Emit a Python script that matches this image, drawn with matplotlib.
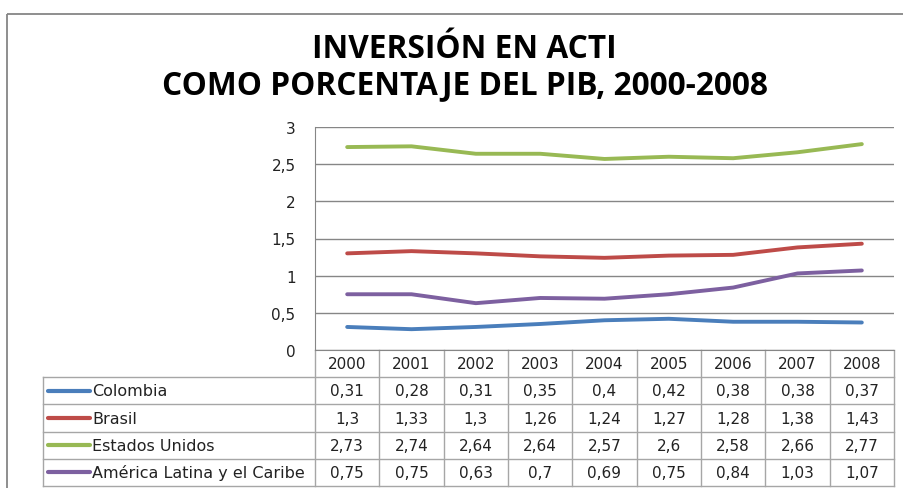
import matplotlib
matplotlib.use("Agg")
import matplotlib.pyplot as plt
from matplotlib.patches import Rectangle
from matplotlib.transforms import blended_transform_factory

# data
years = ["2000", "2001", "2002", "2003", "2004", "2005", "2006", "2007", "2008"]
names = ["Colombia", "Brasil", "Estados Unidos", "América Latina y el Caribe"]
colombia = [0.31, 0.28, 0.31, 0.35, 0.40, 0.42, 0.38, 0.38, 0.37]
brasil = [1.30, 1.33, 1.30, 1.26, 1.24, 1.27, 1.28, 1.38, 1.43]
eeuu = [2.73, 2.74, 2.64, 2.64, 2.57, 2.60, 2.58, 2.66, 2.77]
alc = [0.75, 0.75, 0.63, 0.70, 0.69, 0.75, 0.84, 1.03, 1.07]
series = [colombia, brasil, eeuu, alc]
colors = ["#4A7EBB", "#BE4B48", "#98B954", "#7D60A0"]
y_ticks = [0, 0.5, 1, 1.5, 2, 2.5, 3]

title_lines = ["INVERSIÓN EN ACTI", "COMO PORCENTAJE DEL PIB, 2000-2008"]


def fmt(v):
    return f"{v:g}".replace(".", ",")


W, H = 904, 489
fig = plt.figure(figsize=(W / 100, H / 100), dpi=100)

# pixel overlay for frame, title and table
px = fig.add_axes([0, 0, 1, 1])
px.set_xlim(0, W)
px.set_ylim(H, 0)
px.axis("off")

# plot area
left, right, top, bottom = 315, 894, 128, 351
ax = fig.add_axes([left / W, 1 - bottom / H, (right - left) / W, (bottom - top) / H])
ax.patch.set_alpha(0)
x = list(range(len(years)))
for vals, c in zip(series, colors):
    ax.plot(x, vals, color=c, lw=2.8, solid_joinstyle="round", solid_capstyle="round", zorder=3)
ax.set_xlim(-0.5, len(years) - 0.5)
ax.set_ylim(0, 3)
ax.set_yticks(y_ticks)
ax.set_yticklabels([fmt(t) for t in y_ticks], fontsize=11, color="#222222")
ax.set_xticks([])
ax.yaxis.grid(True, color="#868686", lw=1)
ax.set_axisbelow(True)
for s in ["top", "right"]:
    ax.spines[s].set_visible(False)
for s in ["left", "bottom"]:
    ax.spines[s].set_color("#868686")
ax.tick_params(axis="y", length=0, pad=14)

# outer chart frame (cut off right and bottom in the original)
px.add_patch(Rectangle((7, 15), 1000, 600, fill=False, ec="#868686", lw=1.3))

# title, two lines, scaled so the long line spans like the original
t1 = px.text(464, 58, title_lines[0], ha="center", va="baseline", fontsize=20,
             fontweight="bold", family="Open Sans", color="black")
t2 = px.text(465, 94, title_lines[1], ha="center", va="baseline", fontsize=20,
             fontweight="bold", family="Open Sans", color="black")
rend = fig.canvas.get_renderer()
scale = 606 / t2.get_window_extent(rend).width
for t in (t1, t2):
    t.set_fontsize(20 * scale)

# data table under the axis
row_h = 27.2
lab_left = 43
grid_c = "#A6A6A6"
blend = blended_transform_factory(ax.transData, px.transData)
n_rows = len(names)
tab_bottom = bottom + row_h * (n_rows + 1)
for b in range(len(years) + 1):
    px.plot([b - 0.5, b - 0.5], [bottom, tab_bottom], color=grid_c, lw=1, transform=blend)
for r in range(n_rows + 1):
    yy = bottom + row_h * (r + 1)
    px.plot([lab_left, right], [yy, yy], color=grid_c, lw=1)
px.plot([lab_left, lab_left], [bottom + row_h, tab_bottom], color=grid_c, lw=1)

for i, yr in enumerate(years):
    px.text(i, bottom + row_h / 2, yr, ha="center", va="center", fontsize=11,
            color="#222222", transform=blend)
for r, (name, vals, c) in enumerate(zip(names, series, colors)):
    yc = bottom + row_h * (r + 1.5)
    px.plot([48, 90], [yc, yc], color=c, lw=3, solid_capstyle="round")
    px.text(92, yc, name, ha="left", va="center", fontsize=11.5, color="#222222")
    for i, v in enumerate(vals):
        px.text(i, yc, fmt(v), ha="center", va="center", fontsize=11,
                color="#222222", transform=blend)

fig.savefig("out.png", dpi=100)
